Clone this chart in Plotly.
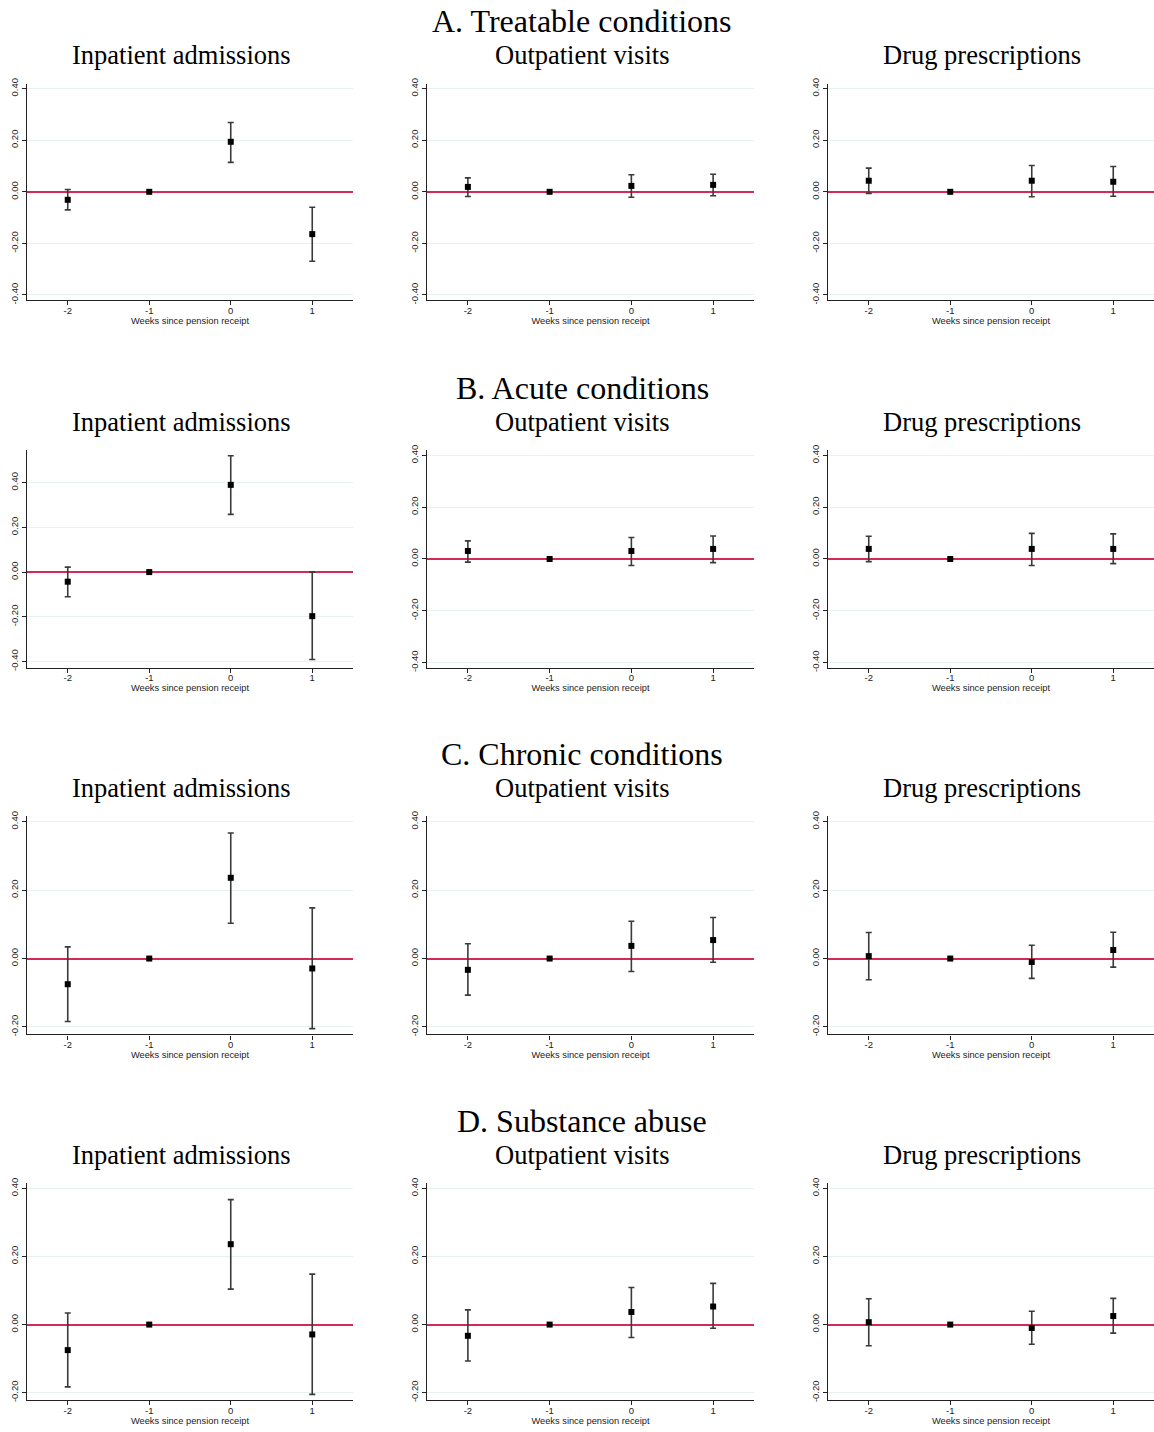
import plotly.graph_objects as go

# ---------------- data ----------------
weeks = [-2, -1, 0, 1]
x_tick_labels = ["-2", "-1", "0", "1"]
x_axis_title = "Weeks since pension receipt"

section_titles = ["A. Treatable conditions", "B. Acute conditions",
                  "C. Chronic conditions", "D. Substance abuse"]
outcome_titles = ["Inpatient admissions", "Outpatient visits", "Drug prescriptions"]

ticks_wide = [-0.4, -0.2, 0.0, 0.2, 0.4]
ticks_wide_labels = ["-0.40", "-0.20", "0.00", "0.20", "0.40"]
ticks_narrow = [-0.2, 0.0, 0.2, 0.4]
ticks_narrow_labels = ["-0.20", "0.00", "0.20", "0.40"]

# A. Treatable conditions
a_inp = [-0.031, 0.0, 0.194, -0.164]
a_inp_lo = [-0.070, 0.0, 0.114, -0.269]
a_inp_hi = [0.009, 0.0, 0.269, -0.060]
a_out = [0.019, 0.0, 0.023, 0.027]
a_out_lo = [-0.018, 0.0, -0.021, -0.015]
a_out_hi = [0.054, 0.0, 0.066, 0.068]
a_drug = [0.043, 0.0, 0.043, 0.039]
a_drug_lo = [-0.006, 0.0, -0.019, -0.017]
a_drug_hi = [0.092, 0.0, 0.102, 0.098]

# B. Acute conditions
b_inp = [-0.043, 0.0, 0.390, -0.197]
b_inp_lo = [-0.110, 0.0, 0.258, -0.391]
b_inp_hi = [0.022, 0.0, 0.520, 0.000]
b_out = [0.031, 0.0, 0.031, 0.039]
b_out_lo = [-0.012, 0.0, -0.025, -0.014]
b_out_hi = [0.070, 0.0, 0.083, 0.089]
b_drug = [0.039, 0.0, 0.039, 0.039]
b_drug_lo = [-0.010, 0.0, -0.025, -0.018]
b_drug_hi = [0.088, 0.0, 0.099, 0.097]

# C. Chronic conditions
c_inp = [-0.075, 0.0, 0.236, -0.029]
c_inp_lo = [-0.184, 0.0, 0.103, -0.205]
c_inp_hi = [0.034, 0.0, 0.367, 0.148]
c_out = [-0.033, 0.0, 0.037, 0.054]
c_out_lo = [-0.107, 0.0, -0.038, -0.011]
c_out_hi = [0.043, 0.0, 0.109, 0.120]
c_drug = [0.007, 0.0, -0.010, 0.025]
c_drug_lo = [-0.062, 0.0, -0.058, -0.025]
c_drug_hi = [0.076, 0.0, 0.039, 0.077]

# D. Substance abuse
d_inp = [-0.075, 0.0, 0.236, -0.029]
d_inp_lo = [-0.183, 0.0, 0.104, -0.205]
d_inp_hi = [0.034, 0.0, 0.367, 0.148]
d_out = [-0.033, 0.0, 0.037, 0.053]
d_out_lo = [-0.107, 0.0, -0.038, -0.011]
d_out_hi = [0.043, 0.0, 0.109, 0.121]
d_drug = [0.007, 0.0, -0.010, 0.025]
d_drug_lo = [-0.062, 0.0, -0.058, -0.025]
d_drug_hi = [0.076, 0.0, 0.039, 0.077]

# ---------------- layout geometry (pixels) ----------------
W, H = 1154, 1432
col_px = [(27, 353), (427, 754), (828, 1154)]
row_px = [(79, 297), (448, 667), (816, 1036), (1185, 1404)]
section_title_y = [16, 385, 754, 1123]
outcome_title_y = [50, 420, 788, 1157]

range_wide = [-0.42, 0.42]
range_b_inp = [-0.428, 0.545]
range_narrow = [-0.222, 0.417]

panels = [
    # row, col, est, lo, hi, yrange, ticks, labels
    (0, 0, a_inp, a_inp_lo, a_inp_hi, range_wide, ticks_wide, ticks_wide_labels),
    (0, 1, a_out, a_out_lo, a_out_hi, range_wide, ticks_wide, ticks_wide_labels),
    (0, 2, a_drug, a_drug_lo, a_drug_hi, range_wide, ticks_wide, ticks_wide_labels),
    (1, 0, b_inp, b_inp_lo, b_inp_hi, range_b_inp, ticks_wide, ticks_wide_labels),
    (1, 1, b_out, b_out_lo, b_out_hi, range_wide, ticks_wide, ticks_wide_labels),
    (1, 2, b_drug, b_drug_lo, b_drug_hi, range_wide, ticks_wide, ticks_wide_labels),
    (2, 0, c_inp, c_inp_lo, c_inp_hi, range_narrow, ticks_narrow, ticks_narrow_labels),
    (2, 1, c_out, c_out_lo, c_out_hi, range_narrow, ticks_narrow, ticks_narrow_labels),
    (2, 2, c_drug, c_drug_lo, c_drug_hi, range_narrow, ticks_narrow, ticks_narrow_labels),
    (3, 0, d_inp, d_inp_lo, d_inp_hi, range_narrow, ticks_narrow, ticks_narrow_labels),
    (3, 1, d_out, d_out_lo, d_out_hi, range_narrow, ticks_narrow, ticks_narrow_labels),
    (3, 2, d_drug, d_drug_lo, d_drug_hi, range_narrow, ticks_narrow, ticks_narrow_labels),
]

SANS = "Liberation Sans, Arial, sans-serif"
SERIF = "Liberation Serif, Times New Roman, serif"
ZERO_COLOR = "#D42A55"
GRID_COLOR = "#E8F0F0"
AXIS_COLOR = "#222222"

fig = go.Figure()
layout_axes = {}
annotations = []

for n, (r, c, est, lo, hi, yr, tv, tt) in enumerate(panels, start=1):
    xname = "x" if n == 1 else f"x{n}"
    yname = "y" if n == 1 else f"y{n}"
    err_plus = [h - e for h, e in zip(hi, est)]
    err_minus = [e - l for e, l in zip(est, lo)]
    fig.add_trace(go.Scatter(
        x=weeks, y=est, mode="markers",
        marker=dict(symbol="square", size=6, color="black"),
        error_y=dict(type="data", symmetric=False, array=err_plus,
                     arrayminus=err_minus, color="#3a3a3a",
                     thickness=1.6, width=3),
        xaxis=xname, yaxis=yname, showlegend=False, cliponaxis=False,
    ))
    x0, x1 = col_px[c]
    y0, y1 = row_px[r]
    xkey = "xaxis" if n == 1 else f"xaxis{n}"
    ykey = "yaxis" if n == 1 else f"yaxis{n}"
    layout_axes[xkey] = dict(
        domain=[x0 / W, x1 / W], anchor=yname, range=[-2.5, 1.5],
        tickmode="array", tickvals=weeks, ticktext=x_tick_labels,
        showgrid=False, zeroline=False, showline=True, linecolor=AXIS_COLOR,
        linewidth=1.2, ticks="outside", ticklen=4, tickwidth=1,
        tickcolor=AXIS_COLOR, ticklabelstandoff=-3,
        tickfont=dict(family=SANS, size=9.5, color="#222"),
        title=dict(text=x_axis_title, font=dict(family=SANS, size=9.3, color="#222"),
                   standoff=0),
    )
    layout_axes[ykey] = dict(
        domain=[1 - y1 / H, 1 - y0 / H], anchor=xname, range=yr,
        tickmode="array", tickvals=tv, ticktext=tt, tickangle=-90,
        showgrid=True, gridcolor=GRID_COLOR, gridwidth=1,
        zeroline=True, zerolinecolor=ZERO_COLOR, zerolinewidth=1.6,
        showline=True, linecolor=AXIS_COLOR, linewidth=1.2,
        ticks="outside", ticklen=4, tickwidth=1, tickcolor=AXIS_COLOR,
        tickfont=dict(family=SANS, size=9.5, color="#222"),
    )

for r in range(4):
    annotations.append(dict(
        text=section_titles[r], x=582 / W, y=1 - section_title_y[r] / H,
        xref="paper", yref="paper", showarrow=False, xanchor="center",
        yanchor="middle", font=dict(family=SERIF, size=32, color="black")))
    for c in range(3):
        x0, x1 = col_px[c]
        cx = (x0 + x1) / 2 - 9
        annotations.append(dict(
            text=outcome_titles[c], x=cx / W, y=1 - outcome_title_y[r] / H,
            xref="paper", yref="paper", showarrow=False, xanchor="center",
            yanchor="middle", font=dict(family=SERIF, size=26.5, color="black")))

fig.update_layout(
    width=W, height=H, margin=dict(l=0, r=0, t=0, b=0),
    paper_bgcolor="white", plot_bgcolor="white",
    annotations=annotations, showlegend=False,
    **layout_axes,
)

fig.write_html("out.html")
